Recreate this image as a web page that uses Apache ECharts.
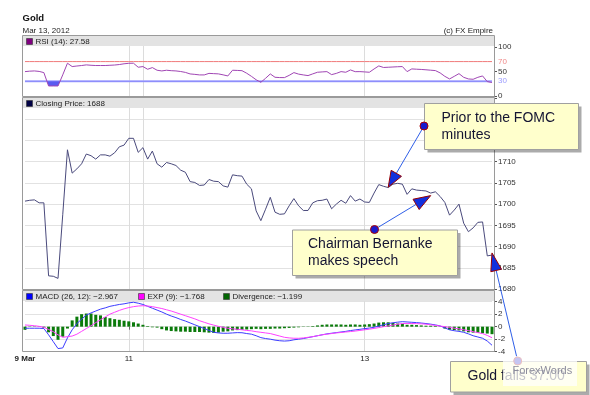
<!DOCTYPE html>
<html><head><meta charset="utf-8">
<script src="https://cdn.jsdelivr.net/npm/echarts@6/dist/echarts.min.js"></script>
<style>html,body{margin:0;padding:0;background:#fff}#c{width:590px;height:395px}</style>
</head><body><div id="c"></div>
<script>
// ---------- data ----------
const closePrice = [
 1700.7,1700.9,1701.0,1700.3,1700.3,1683.1,1683.0,1682.5,1697.5,1712.8,
 1707.3,1708.3,1709.5,1711.8,1711.4,1710.6,1711.6,1711.6,1711.3,1712.1,
 1713.5,1713.9,1715.5,1715.5,1712.2,1713.3,1710.6,1712.5,1709.5,1708.7,
 1709.8,1709.5,1709.1,1708.0,1707.5,1705.3,1705.1,1704.4,1704.5,1705.8,
 1705.4,1705.3,1704.3,1704.0,1706.9,1706.7,1706.6,1704.7,1703.6,1698.4,
 1696.1,1698.8,1701.6,1698.1,1697.6,1697.7,1699.6,1701.3,1699.6,1698.5,
 1698.5,1700.3,1700.8,1700.9,1701.2,1698.9,1700.0,1700.9,1700.2,1702.0,
 1700.7,1701.2,1700.5,1700.4,1702.6,1704.6,1704.2,1703.9,1704.7,1704.9,
 1704.7,1702.3,1703.6,1703.3,1703.2,1703.1,1702.6,1702.9,1701.8,1700.4,
 1697.4,1698.6,1700.0,1695.5,1693.5,1694.4,1695.7,1695.8,1687.8,1688.0
];
const rsi = [
 49.6,50.5,51.0,50.0,47.6,20.4,20.4,20.4,43.0,66.7,
 59.9,61.0,62.0,63.3,62.5,62.0,62.0,62.0,62.5,63.0,
 64.0,65.5,66.5,66.7,58.5,59.9,54.4,57.8,52.4,51.0,
 52.4,51.5,51.0,49.8,48.0,44.9,44.0,42.9,42.9,46.0,
 45.5,45.0,43.0,40.8,52.4,52.0,51.5,46.3,40.0,33.0,
 27.9,36.0,44.9,38.1,37.5,37.4,42.0,47.6,44.5,42.9,
 41.5,45.0,48.3,49.0,49.6,43.5,46.0,49.6,48.3,53.0,
 49.5,49.6,49.0,48.3,55.0,61.2,58.0,58.5,59.0,59.5,
 59.9,49.6,55.1,54.5,54.0,53.3,52.5,51.7,47.0,40.0,
 34.7,40.0,45.5,38.0,34.7,34.0,38.0,40.8,29.2,27.58
];
const macd = [
 -0.25,-0.25,-0.25,-0.25,-0.3,-1.3,-2.4,-3.5,-3.4,-1.8,
 -0.5,0.5,1.2,1.85,2.2,2.5,2.8,3.0,3.25,3.4,
 3.55,3.65,3.8,3.9,3.75,3.55,3.25,2.95,2.65,2.35,
 2.0,1.7,1.45,1.15,0.9,0.6,0.3,0.0,-0.3,-0.6,
 -0.9,-1.0,-1.05,-1.05,-1.0,-0.95,-0.97,-1.1,-1.2,-1.45,
 -1.75,-1.9,-2.0,-2.15,-2.25,-2.3,-2.25,-2.1,-2.0,-1.9,
 -1.75,-1.6,-1.45,-1.3,-1.15,-1.05,-0.95,-0.85,-0.75,-0.62,
 -0.52,-0.42,-0.32,-0.22,-0.1,0.1,0.3,0.5,0.62,0.72,
 0.8,0.75,0.7,0.65,0.58,0.5,0.4,0.28,0.12,-0.2,
 -0.5,-0.65,-0.75,-0.9,-1.15,-1.45,-1.65,-1.85,-2.3,-2.967
];
const expSignal = [
 0.27,0.22,0.15,0.05,-0.1,-0.45,-0.8,-1.3,-1.7,-1.6,
 -1.5,-1.2,-0.75,-0.3,0.15,0.65,1.1,1.55,2.0,2.3,
 2.6,2.85,3.05,3.2,3.3,3.35,3.3,3.2,3.05,2.9,
 2.7,2.5,2.25,2.0,1.75,1.5,1.25,0.95,0.7,0.45,
 0.25,0.05,-0.1,-0.25,-0.35,-0.42,-0.5,-0.6,-0.67,-0.8,
 -0.9,-1.0,-1.1,-1.3,-1.5,-1.7,-1.8,-1.85,-1.86,-1.8,
 -1.7,-1.6,-1.45,-1.3,-1.2,-1.1,-1.0,-0.93,-0.85,-0.78,
 -0.7,-0.6,-0.5,-0.4,-0.28,-0.15,0.0,0.12,0.25,0.38,
 0.5,0.52,0.5,0.48,0.45,0.4,0.3,0.2,0.1,0.0,
 -0.12,-0.25,-0.35,-0.5,-0.62,-0.8,-0.95,-1.1,-1.4,-1.768
];
const divergence = [
 -0.5,-0.05,-0.05,-0.05,-0.2,-0.9,-1.5,-2.1,-1.6,-0.3,
 1.0,1.6,2.0,2.1,2.1,1.9,1.8,1.55,1.35,1.2,
 1.1,0.95,0.85,0.7,0.5,0.3,0.1,-0.1,-0.15,-0.4,
 -0.6,-0.7,-0.75,-0.8,-0.8,-0.85,-0.85,-0.85,-0.9,-0.95,
 -1.0,-0.95,-0.8,-0.75,-0.6,-0.55,-0.5,-0.45,-0.4,-0.35,
 -0.4,-0.35,-0.35,-0.3,-0.3,-0.25,-0.2,-0.15,-0.1,-0.05,
 0.05,0.1,0.2,0.3,0.35,0.35,0.35,0.35,0.3,0.35,
 0.35,0.3,0.35,0.4,0.5,0.65,0.7,0.7,0.6,0.5,
 0.45,0.3,0.3,0.25,0.2,0.15,0.15,0.1,-0.05,-0.3,
 -0.5,-0.55,-0.6,-0.75,-0.9,-0.95,-1.0,-1.05,-1.1,-1.199
];
const tickIndex = [0, 22, 72];
const tickText = ['9 Mar', '11', '13'];
const dayLineIndex = [22, 25, 72];
const rsiLabels = [0, 30, 50, 70, 100];
const rsiTicks = [0, 50, 100];
const rsiOverbought = 70;
const rsiOversold = 30;
const macdLabels = [-4, -2, 0, 2, 4];
const categories = closePrice.map((_, i) => String(i));

// ---------- chart ----------
const FONT = '"Liberation Sans", Arial, sans-serif';
const L = 25, R = 98;
const minus = v => String(v).replace('-', '\u2212');

function xAxisFor(gi, show) {
  return {
    type: 'category', gridIndex: gi, data: categories, boundaryGap: false,
    axisLine: {show: false},
    axisTick: {show: show, interval: i => tickIndex.includes(i), length: 3, lineStyle: {color: '#666'}},
    axisLabel: {
      show: show, interval: i => tickIndex.includes(i), margin: 3,
      fontSize: 8, color: '#222', fontFamily: FONT,
      formatter: (v) => {
        const k = tickIndex.indexOf(Number(v));
        if (k < 0) return '';
        return k === 0 ? '{b|' + tickText[k] + '}' : tickText[k];
      },
      rich: {b: {fontWeight: 'bold', fontSize: 8, color: '#222', fontFamily: FONT}}
    },
    splitLine: {show: true, interval: i => dayLineIndex.includes(i), lineStyle: {color: '#dcdcdc', width: 1}}
  };
}
const yBase = {
  type: 'value', position: 'right', offset: 2,
  axisLine: {show: false},
  axisTick: {show: true, length: 3, lineStyle: {color: '#555'}}
};
const rsiFill = new echarts.graphic.LinearGradient(0, 37, 0, 96, [
  {offset: 0, color: 'rgba(90,90,240,0)'},
  {offset: 0.75, color: 'rgba(90,90,240,0)'},
  {offset: 0.75, color: '#5a5af0'},
  {offset: 1, color: '#5a5af0'}
], true);
const bandLine = (value, color, width) => ({
  type: 'line', xAxisIndex: 0, yAxisIndex: 0, symbol: 'none', silent: true, z: 2,
  data: categories.map(() => value),
  lineStyle: {color: color, width: width, type: 'solid'}
});

const option = {
  animation: false,
  backgroundColor: '#ffffff',
  grid: [
    {left: L, right: R, top: 37, height: 59, outerBoundsMode: 'none'},
    {left: L, right: R, top: 98, height: 191, outerBoundsMode: 'none'},
    {left: L, right: R, top: 291, height: 60.7, outerBoundsMode: 'none'}
  ],
  xAxis: [xAxisFor(0, false), xAxisFor(1, false), xAxisFor(2, true)],
  yAxis: [
    Object.assign({}, yBase, {
      gridIndex: 0, min: 0, max: 120, interval: 10,
      splitLine: {show: false},
      axisTick: {show: true, length: 3, customValues: rsiTicks, lineStyle: {color: '#555'}},
      axisLabel: {
        customValues: rsiLabels,
        formatter: v => rsiLabels.includes(Number(v)) ? String(v) : '',
        color: v => Number(v) === 70 ? '#f08a8a' : Number(v) === 30 ? '#9c9cff' : '#333',
        fontSize: 8, margin: 4, fontFamily: FONT
      }
    }),
    Object.assign({}, yBase, {
      gridIndex: 1, min: 1680, max: 1725, interval: 5,
      splitLine: {show: true, lineStyle: {color: '#e2e2e2', width: 1}},
      axisLabel: {formatter: v => Number(v) < 1725 ? String(v) : '', color: '#333', fontSize: 8, margin: 4, fontFamily: FONT}
    }),
    Object.assign({}, yBase, {
      gridIndex: 2, min: -4, max: 5.7, interval: 2,
      splitLine: {show: true, lineStyle: {color: '#e2e2e2', width: 1}},
      axisTick: {show: true, length: 3, customValues: macdLabels, lineStyle: {color: '#555'}},
      axisLabel: {customValues: macdLabels, formatter: v => macdLabels.includes(Number(v)) ? String(v) : '', color: '#333', fontSize: 8, margin: 4, fontFamily: FONT}
    })
  ],
  series: [
    bandLine(rsiOverbought, '#f07a7a', 1),
    bandLine(rsiOversold, '#a0a0ff', 2),
    {type: 'line', name: 'RSI', xAxisIndex: 0, yAxisIndex: 0, data: rsi, symbol: 'none', silent: true, z: 3,
     lineStyle: {color: '#a046b4', width: 1}, areaStyle: {origin: 30, color: rsiFill, opacity: 1}},
    {type: 'line', name: 'Closing Price', xAxisIndex: 1, yAxisIndex: 1, data: closePrice, symbol: 'none', silent: true, z: 3,
     lineStyle: {color: '#4a4a7c', width: 1}},
    {type: 'bar', name: 'Divergence', xAxisIndex: 2, yAxisIndex: 2, data: divergence, barWidth: 3, silent: true, z: 2,
     itemStyle: {color: '#0a7a0a'}},
    {type: 'line', name: 'MACD', xAxisIndex: 2, yAxisIndex: 2, data: macd, symbol: 'none', silent: true, z: 4,
     lineStyle: {color: '#3c3cff', width: 1}},
    {type: 'line', name: 'EXP', xAxisIndex: 2, yAxisIndex: 2, data: expSignal, symbol: 'none', silent: true, z: 4,
     lineStyle: {color: '#ff40ff', width: 1}}
  ]
};

const chart = echarts.init(document.getElementById('c'), null, {renderer: 'canvas'});
chart.setOption(option);

// ---------- decorations ----------
const g = [];
const txt = (text, x, y, font, fill, align) => ({
  type: 'text', z: 20, silent: true,
  style: {text, x, y, font, fill, align: align || 'left', textAlign: align || 'left', verticalAlign: 'middle', textVerticalAlign: 'middle'}
});
g.push(txt('Gold', 22.5, 18, 'bold 9.5px ' + FONT, '#111'));
g.push(txt('Mar 13, 2012', 22.5, 30.5, '8px ' + FONT, '#222'));
g.push(txt('(c) FX Empire', 493, 30.5, '8px ' + FONT, '#222', 'right'));

const panels = [[35.5, 61], [97.5, 192], [290.5, 61]];
panels.forEach(([y, h]) => {
  g.push({type: 'rect', z: 1, silent: true, shape: {x: 23, y: y + 0.5, width: 471, height: 10}, style: {fill: '#e3e3e3'}});
  g.push({type: 'rect', z: 15, silent: true, shape: {x: 22.5, y: y, width: 472, height: h}, style: {fill: 'none', stroke: '#9a9a9a', lineWidth: 1}});
});
const legendItem = (x, y, color, text) => {
  g.push({type: 'rect', z: 16, silent: true, shape: {x: x, y: y - 3, width: 6, height: 6}, style: {fill: color, stroke: '#333', lineWidth: 0.6}});
  g.push(txt(text, x + 9, y, '8px ' + FONT, '#222'));
};
legendItem(26.5, 41.5, '#800080', 'RSI (14): ' + rsi[rsi.length - 1]);
legendItem(26.5, 103.5, '#000044', 'Closing Price: ' + Math.round(closePrice[closePrice.length - 1]));
legendItem(26.5, 296.5, '#0000ff', 'MACD (26, 12): ' + minus(macd[macd.length - 1].toFixed(3)));
legendItem(138.5, 296.5, '#ff00ff', 'EXP (9): ' + minus(expSignal[expSignal.length - 1].toFixed(3)));
legendItem(223.5, 296.5, '#006400', 'Divergence: ' + minus(divergence[divergence.length - 1].toFixed(3)));

const callouts = [
  {lines: ['Prior to the FOMC', 'minutes'], box: [424, 103, 154, 46], textX: 441.5, textY: [118, 135],
   dot: [424, 126], tipIndex: 77, tipValue: 1704, head: [16, 6]},
  {lines: ['Chairman Bernanke', 'makes speech'], box: [292, 229.5, 165, 45.5], textX: 308, textY: [244.5, 261],
   dot: [374.5, 229.5], tipIndex: 86, tipValue: 1702, head: [17, 6]},
  {lines: ['Gold falls 37.00'], box: [450, 361, 136, 30.5], textX: 467.5, textY: [376.5],
   dot: [517.7, 361], tipIndex: 99, tipValue: 1688.5, head: [18, 5.5]}
];
callouts.forEach(c => {
  const [bx, by, bw, bh] = c.box;
  g.push({type: 'rect', z: 30, silent: true, shape: {x: bx + 3.5, y: by + 3.5, width: bw, height: bh}, style: {fill: 'rgba(0,0,0,0.33)'}});
  g.push({type: 'rect', z: 31, silent: true, shape: {x: bx + 0.5, y: by + 0.5, width: bw, height: bh}, style: {fill: '#ffffcc', stroke: '#a0a0a0', lineWidth: 1}});
  c.lines.forEach((t, k) => g.push(Object.assign(txt(t, c.textX, c.textY[k], '14px ' + FONT, '#141432'), {z: 32})));
});
callouts.forEach(c => {
  const tip = chart.convertToPixel({gridIndex: 1}, [c.tipIndex, c.tipValue]);
  const [dx, dy] = c.dot;
  const vx = tip[0] - dx, vy = tip[1] - dy, d = Math.hypot(vx, vy);
  const ux = vx / d, uy = vy / d, nx = -uy, ny = ux;
  const [len, hw] = c.head;
  const bxm = tip[0] - ux * len, bym = tip[1] - uy * len;
  g.push({type: 'line', z: 33, silent: true, shape: {x1: dx, y1: dy, x2: bxm, y2: bym}, style: {stroke: '#2f5fe8', lineWidth: 1}});
  g.push({type: 'polygon', z: 34, silent: true,
    shape: {points: [[tip[0], tip[1]], [bxm + nx * hw, bym + ny * hw], [bxm - nx * hw, bym - ny * hw]]},
    style: {fill: '#1230dd', stroke: '#9a0000', lineWidth: 1}});
  g.push({type: 'circle', z: 35, silent: true, shape: {cx: dx, cy: dy, r: 4}, style: {fill: '#1a1acc', stroke: '#b00000', lineWidth: 1}});
});
g.push({type: 'rect', z: 40, silent: true, shape: {x: 503, y: 356, width: 74, height: 30}, style: {fill: 'rgba(255,255,255,0.75)'}});
g.push(Object.assign(txt('ForexWords', 512.5, 370.5, '11px ' + FONT, '#8c8c9c'), {z: 41}));

chart.setOption({graphic: {elements: g}});
</script>
</body></html>
